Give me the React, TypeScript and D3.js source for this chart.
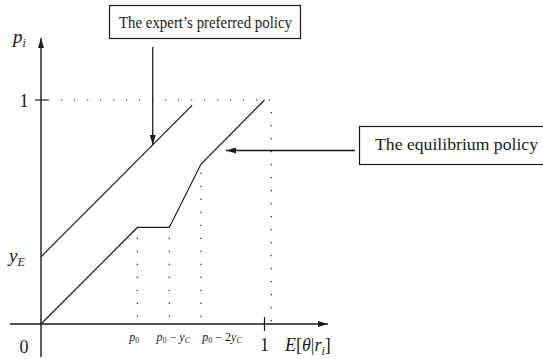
import * as d3 from "d3";

// policy curves (data units: 0..1 on both axes)
const expertX = [0, 0.676];
const expertY = [0.3, 0.976];
const equilibriumX = [0, 0.431, 0.574, 0.716, 1.0];
const equilibriumY = [0, 0.431, 0.431, 0.714, 1.0];

// dotted guides
const guideX = [0.431, 0.574, 0.716];
const guideTop = [0.431, 0.431, 0.714];
const unitGuide = 1.03;

// axis extents in data units
const xAxisRange = [-0.139, 1.284];
const yAxisRange = [-0.147, 1.277];

const W = 543;
const H = 359;
const ink = "#1a1a1a";
const serif = "Times New Roman, Liberation Serif, DejaVu Serif, serif";

export default function App() {
  const x = d3.scaleLinear().domain([0, 1]).range([41, 264.5]);
  const y = d3.scaleLinear().domain([0, 1]).range([324, 100]);

  const line = d3
    .line<[number, number]>()
    .x((d) => x(d[0]))
    .y((d) => y(d[1]));

  const expertPts = expertX.map((v, i) => [v, expertY[i]] as [number, number]);
  const eqPts = equilibriumX.map((v, i) => [v, equilibriumY[i]] as [number, number]);

  const dot = { stroke: ink, strokeWidth: 1.2, strokeDasharray: "1.2,11.8", fill: "none" };

  return (
    <svg width={W} height={H} style={{ position: "absolute", left: 0, top: 0, background: "#fff", fontFamily: serif }}>
      <defs>
        <marker id="ah" viewBox="0 0 10 6" refX="10" refY="3" markerWidth="10" markerHeight="6" markerUnits="userSpaceOnUse" orient="auto">
          <path d="M0,0 L10,3 L0,6 Z" fill={ink} />
        </marker>
      </defs>

      {/* dotted guides */}
      <line x1={x(0) + 7} x2={x(unitGuide)} y1={y(1)} y2={y(1)} {...dot} />
      <line x1={x(unitGuide)} x2={x(unitGuide)} y1={y(1) + 12} y2={y(0)} {...dot} />
      {guideX.map((g, i) => (
        <line key={i} x1={x(g)} x2={x(g)} y1={y(0) - 7} y2={y(guideTop[i]) + 8} {...dot} />
      ))}

      {/* axes */}
      <line x1={x(xAxisRange[0])} x2={x(xAxisRange[1])} y1={y(0)} y2={y(0)} stroke={ink} strokeWidth={1.4} markerEnd="url(#ah)" />
      <line x1={x(0)} x2={x(0)} y1={y(yAxisRange[0])} y2={y(yAxisRange[1])} stroke={ink} strokeWidth={1.4} markerEnd="url(#ah)" />
      <line x1={x(0) - 6} x2={x(0) + 7} y1={y(1)} y2={y(1)} stroke={ink} strokeWidth={1.2} />
      <line x1={x(1)} x2={x(1)} y1={y(0) - 7} y2={y(0) + 7} stroke={ink} strokeWidth={1.2} />

      {/* policies */}
      <path d={line(expertPts) ?? ""} fill="none" stroke={ink} strokeWidth={1.2} />
      <path d={line(eqPts) ?? ""} fill="none" stroke={ink} strokeWidth={1.2} />

      {/* axis labels */}
      <g fill={ink}>
        <text x={13} y={43} fontSize={19} fontStyle="italic">
          p<tspan fontSize={12} dy={4}>i</tspan>
        </text>
        <text x={24} y={107} fontSize={18} textAnchor="middle">1</text>
        <text x={9} y={262} fontSize={19} fontStyle="italic">
          y<tspan fontSize={12} dy={4}>E</tspan>
        </text>
        <text x={24} y={353} fontSize={18} textAnchor="middle">0</text>
        <text x={x(1)} y={351} fontSize={18} textAnchor="middle">1</text>
        <text x={285} y={351} fontSize={18}>
          <tspan fontStyle="italic">E</tspan>[<tspan fontStyle="italic">θ</tspan>|<tspan fontStyle="italic">r</tspan>
          <tspan fontSize={12} dy={4} fontStyle="italic">i</tspan>
          <tspan dy={-4}>]</tspan>
        </text>
        <text x={x(guideX[0]) - 3} y={341} fontSize={12} textAnchor="middle">
          <tspan fontStyle="italic">p</tspan><tspan fontSize={8} dy={2}>0</tspan>
        </text>
        <text x={x(guideX[1]) + 4} y={341} fontSize={12} textAnchor="middle">
          <tspan fontStyle="italic">p</tspan><tspan fontSize={8} dy={2}>0</tspan>
          <tspan dy={-2}> − </tspan><tspan fontStyle="italic">y</tspan>
          <tspan fontSize={8} dy={2} fontStyle="italic">C</tspan>
        </text>
        <text x={x(guideX[2]) + 21} y={341} fontSize={12} textAnchor="middle">
          <tspan fontStyle="italic">p</tspan><tspan fontSize={8} dy={2}>0</tspan>
          <tspan dy={-2}> − 2</tspan><tspan fontStyle="italic">y</tspan>
          <tspan fontSize={8} dy={2} fontStyle="italic">C</tspan>
        </text>
      </g>

      {/* annotation: expert's preferred policy */}
      <rect x={109.5} y={5.5} width={191} height={33} fill="#fff" stroke={ink} strokeWidth={1.2} />
      <text x={119} y={27.5} fontSize={16.5} fill={ink} textLength={173} lengthAdjust="spacingAndGlyphs">
        The expert’s preferred policy
      </text>
      <line x1={x(0.5)} x2={x(0.5)} y1={47} y2={y(0.8)} stroke={ink} strokeWidth={1.3} markerEnd="url(#ah)" />

      {/* annotation: equilibrium policy */}
      <rect x={359.5} y={126.5} width={190} height={38} fill="#fff" stroke={ink} strokeWidth={1.2} />
      <text x={375} y={149.5} fontSize={16.5} fill={ink} textLength={163} lengthAdjust="spacingAndGlyphs">
        The equilibrium policy
      </text>
      <line x1={355} x2={226} y1={150.5} y2={150.5} stroke={ink} strokeWidth={1.3} markerEnd="url(#ah)" />
    </svg>
  );
}
